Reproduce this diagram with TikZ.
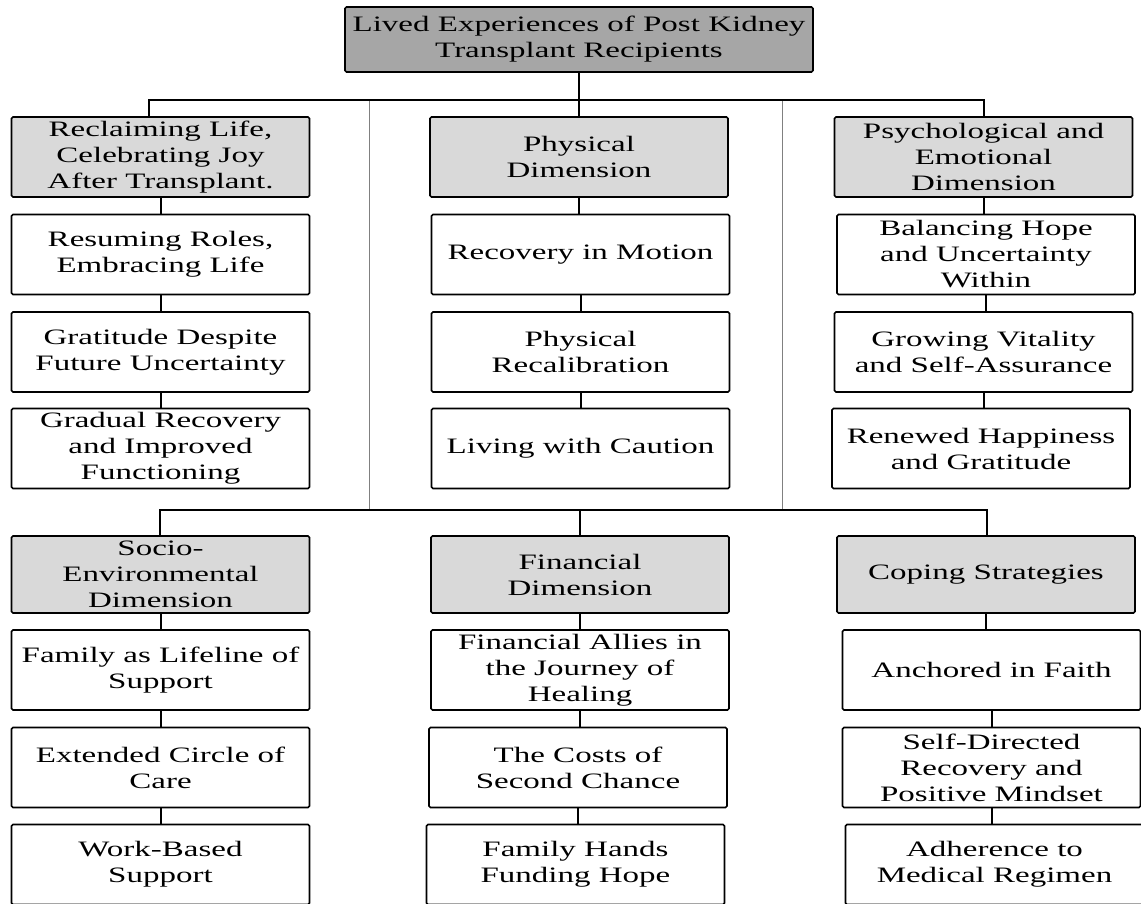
\documentclass[tikz,border=0pt]{standalone}
\usepackage{fontspec}
\setmainfont{Liberation Serif}[FakeStretch=1.5]
\usepackage{tikz}
\usetikzlibrary{scopes}
\pgfdeclarelayer{background layer}
\pgfsetlayers{background layer,main}

\begin{document}
\begin{tikzpicture}[
    x=1pt,y=-1pt,
    box/.style={rectangle,draw=black,line width=1.6pt,rounded corners=1.5pt,inner sep=0pt,
        align=center,minimum width=298pt,minimum height=80pt,font=\fontsize{22}{26}\selectfont},
    rootbox/.style={box,fill=black!35,minimum width=468pt,minimum height=65pt},
    themebox/.style={box,fill=black!15},
    subbox/.style={box,fill=white},
    link/.style={line width=2pt},
    divider/.style={draw=black!50,line width=1pt},
]
    \useasboundingbox (0,0) rectangle (1141,903);

    \node[rootbox] (root) at (579,39.5) {Lived Experiences of Post Kidney\\Transplant Recipients};

    % upper row of themes
    \node[themebox] (reclaim) at (160.5,157) {Reclaiming Life,\\Celebrating Joy\\After Transplant.};
    \node[subbox] (roles) at (160.5,254.5) {Resuming Roles,\\Embracing Life};
    \node[subbox] (gratitude) at (160.5,352) {Gratitude Despite\\Future Uncertainty};
    \node[subbox] (gradual) at (160.5,448.5) {Gradual Recovery\\and Improved\\Functioning};

    \node[themebox] (physical) at (579,157) {Physical\\Dimension};
    \node[subbox] (motion) at (580.5,254.5) {Recovery in Motion};
    \node[subbox] (recal) at (580.5,352) {Physical\\Recalibration};
    \node[subbox] (caution) at (580.5,448.5) {Living with Caution};

    \node[themebox] (psych) at (983.5,157) {Psychological and\\Emotional\\Dimension};
    \node[subbox] (balance) at (986,254.5) {Balancing Hope\\and Uncertainty\\Within};
    \node[subbox] (vitality) at (983.5,352) {Growing Vitality\\and Self-Assurance};
    \node[subbox] (renewed) at (981,448.5) {Renewed Happiness\\and Gratitude};

    % lower row of themes
    \node[themebox,minimum height=77pt] (socio) at (160.5,574.5) {Socio-\\Environmental\\Dimension};
    \node[subbox] (family) at (160.5,670) {Family as Lifeline of\\Support};
    \node[subbox] (circle) at (160.5,767.5) {Extended Circle of\\Care};
    \node[subbox] (work) at (160.5,864.5) {Work-Based\\Support};

    \node[themebox,minimum height=77pt] (financial) at (580,574.5) {Financial\\Dimension};
    \node[subbox] (allies) at (580,670) {Financial Allies in\\the Journey of\\Healing};
    \node[subbox] (costs) at (578,767.5) {The Costs of\\Second Chance};
    \node[subbox] (hands) at (575.5,864.5) {Family Hands\\Funding Hope};

    \node[themebox,minimum height=77pt] (coping) at (986,574.5) {Coping Strategies};
    \node[subbox] (faith) at (991.5,670) {Anchored in Faith};
    \node[subbox] (selfdir) at (991.5,767.5) {Self-Directed\\Recovery and\\Positive Mindset};
    \node[subbox] (regimen) at (994.5,864.5) {Adherence to\\Medical Regimen};

    \coordinate (busL) at (149,100);
    \coordinate (busR) at (984,100);
    \coordinate (lowL) at (160,510);
    \coordinate (lowR) at (987,510);
    \coordinate (divA) at (369,101);
    \coordinate (divB) at (782,101);

    {[link]
        \draw (root.south) -- (root.south |- physical.north);
        \draw (reclaim.north -| busL) -- (busL) -- (busR) -- (psych.north -| busR);
        \draw (socio.north -| lowL) -- (lowL) -- (lowR) -- (coping.north -| lowR);
        \draw (financial.north) -- (financial.north |- lowL);
        \foreach \a/\b in {reclaim/roles,roles/gratitude,gratitude/gradual,
                physical/motion,motion/recal,recal/caution,
                psych/balance,balance/vitality,vitality/renewed,
                socio/family,family/circle,circle/work,
                financial/allies,allies/costs,costs/hands,
                coping/faith,faith/selfdir,selfdir/regimen}
            \draw (\a.south) -- (\a.south |- \b.north);
    }

\begin{pgfonlayer}{background layer}
    \draw[divider] (divA) -- (divA |- lowL);
    \draw[divider] (divB) -- (divB |- lowL);
\end{pgfonlayer}
\end{tikzpicture}
\end{document}
